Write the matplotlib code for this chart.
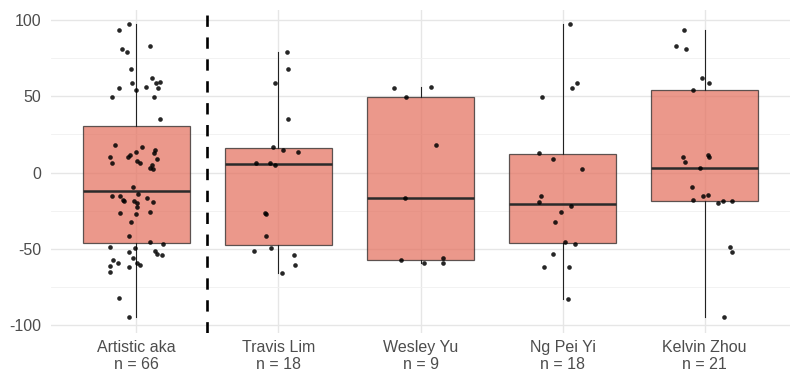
import matplotlib
matplotlib.use("Agg")
import matplotlib.pyplot as plt
from matplotlib.ticker import MultipleLocator

plt.rcParams['font.family'] = ['Liberation Sans', 'DejaVu Sans']
plt.rcParams['axes.unicode_minus'] = False

groups = ["Artistic aka", "Travis Lim", "Wesley Yu", "Ng Pei Yi", "Kelvin Zhou"]

artistic = [97.3, 93.6, 80.7, 78.8, 82.7, 67.6, 62.0, 58.7, 58.5, 59.4, 55.4, 53.9, 55.9,
            55.4, 49.5, 49.8, 35.1, 18.3, 17.0, 10.5, 6.5, 10.5, 11.6, 13.7, 7.4, 6.1, 14.8,
            12.9, 9.2, 5.2, 3.3, 2.6, -9.4, -15.1, -15.1, -17.9, -18.8, -14.2, -18.8, -19.9,
            -22.3, -16.4, -19.2, -26.2, -27.3, -26.0, -32.5, -41.7, -45.4, -46.5, -48.7,
            -49.1, -52.1, -51.1, -53.2, -53.7, -57.2, -59.1, -56.1, -59.1, -60.4, -61.1,
            -61.5, -65.2, -82.3, -94.5]
travis = [78.8, 67.6, 58.5, 35.0, 16.8, 14.6, 13.7, 6.1, 6.5, 5.2, -26.4, -27.3, -41.7,
          -51.1, -49.1, -53.7, -60.4, -65.5]
wesley = [55.6, 55.9, 49.8, 18.3, -16.4, -57.4, -59.1, -55.6, -59.1]
ng = [97.3, 58.9, 55.4, 49.5, 13.1, 9.2, 2.6, -15.3, -19.2, -21.8, -26.0, -32.5, -45.6,
      -46.5, -53.5, -61.5, -61.5, -82.5]
kelvin = [93.6, 82.7, 80.7, 62.0, 58.5, 53.9, 10.5, 7.2, 11.8, 10.3, 2.8, -9.2, -15.3,
          -14.4, -17.9, -20.1, -18.8, -18.8, -48.7, -52.1, -94.5]

# horizontal jitter (category units)
artistic_jit = [-0.054, -0.122, -0.103, -0.068, 0.096, -0.037, 0.108, -0.028, 0.136, 0.164,
                -0.122, -0.002, 0.068, 0.152, -0.171, 0.126, 0.164, -0.147, 0.042, -0.185,
                -0.171, -0.058, -0.047, -0.005, 0.002, 0.028, 0.133, 0.124, 0.147, 0.108,
                0.098, 0.117, -0.023, -0.171, -0.117, -0.094, -0.089, 0.014, -0.016, 0.005,
                0.005, 0.075, 0.119, -0.115, 0.0, 0.096, -0.040, -0.054, 0.096, 0.187,
                -0.187, -0.009, -0.054, 0.133, 0.147, 0.180, -0.166, -0.129, -0.026, 0.007,
                0.028, -0.182, -0.051, -0.182, -0.122, -0.049]
travis_jit = [0.063, 0.065, -0.023, 0.068, -0.040, 0.030, 0.136, -0.161, -0.056, -0.023,
              -0.091, -0.089, -0.089, -0.175, -0.049, 0.112, 0.117, 0.023]
wesley_jit = [-0.189, 0.073, -0.103, 0.108, -0.108, -0.138, 0.028, 0.157, 0.157]
ng_jit = [0.051, 0.098, 0.068, -0.147, -0.166, -0.070, 0.138, -0.154, -0.164, 0.058,
          -0.012, -0.056, 0.016, 0.084, -0.068, -0.129, 0.042, 0.035]
kelvin_jit = [-0.143, -0.199, -0.131, -0.019, 0.030, -0.084, -0.152, -0.140, 0.023, 0.028,
              -0.035, -0.087, -0.014, 0.021, -0.084, 0.094, 0.131, 0.189, 0.180, 0.189, 0.133]

# box statistics
q1 = [-46.3, -47.3, -57.4, -46.3, -18.8]
med = [-11.8, 5.9, -16.4, -20.5, 3.1]
q3 = [30.5, 16.4, 49.8, 12.0, 53.9]
whislo = [-94.5, -65.5, -59.1, -82.5, -94.5]
whishi = [97.3, 78.8, 55.9, 97.3, 93.6]

values = [artistic, travis, wesley, ng, kelvin]
jitters = [artistic_jit, travis_jit, wesley_jit, ng_jit, kelvin_jit]

fig = plt.figure(figsize=(8, 3.83), dpi=100)
ax = fig.add_axes([51 / 800, 1 - 333 / 383, 739 / 800, 323 / 383])

stats = []
for i, g in enumerate(groups):
    stats.append(dict(label=g, q1=q1[i], med=med[i], q3=q3[i],
                      whislo=whislo[i], whishi=whishi[i], fliers=[]))

pos = list(range(1, len(groups) + 1))
ax.bxp(stats, positions=pos, widths=0.75, patch_artist=True, showcaps=False,
       showfliers=False,
       boxprops=dict(facecolor='#E4705E', alpha=0.72, edgecolor='#222222', linewidth=0.9),
       medianprops=dict(color='#2a2a2a', linewidth=1.8),
       whiskerprops=dict(color='#222222', linewidth=0.8),
       zorder=2)

for i in range(len(groups)):
    xs = [pos[i] + j for j in jitters[i]]
    ax.scatter(xs, values[i], s=11, color='black', alpha=0.85, linewidths=0, zorder=3)

ax.axvline(1.5, color='black', linewidth=1.9, linestyle=(0, (4.3, 4.0)), zorder=4)

ax.set_xlim(0.4, 5.6)
ax.set_ylim(-105, 106.5)
ax.yaxis.set_major_locator(MultipleLocator(50))
ax.yaxis.set_minor_locator(MultipleLocator(25))
ax.set_xticks(pos)
ax.set_xticklabels([f"{g}\nn = {len(v)}" for g, v in zip(groups, values)], linespacing=1.15)

ax.grid(True, which='major', color='#E6E6E6', linewidth=1.0, zorder=0)
ax.grid(True, which='minor', axis='y', color='#F0F0F0', linewidth=0.6, zorder=0)
ax.set_axisbelow(True)
for s in ax.spines.values():
    s.set_visible(False)
ax.tick_params(axis='both', which='both', length=0, labelsize=11.5, labelcolor='#4D4D4D')
ax.tick_params(axis='x', pad=5)
ax.tick_params(axis='y', pad=7)

fig.savefig("out.png", dpi=100)
